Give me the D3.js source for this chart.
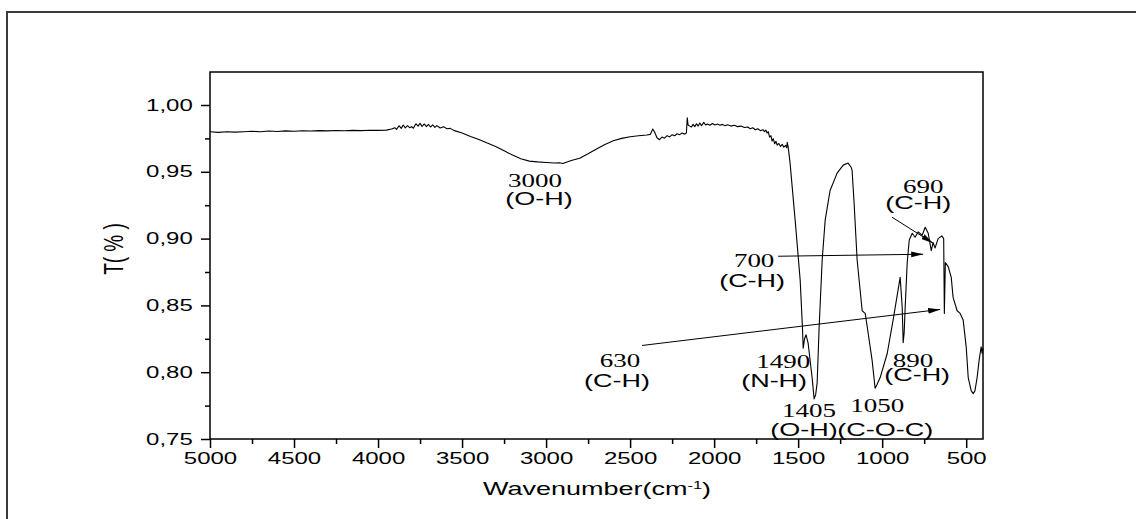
<!DOCTYPE html>
<html><head><meta charset="utf-8">
<script src="https://cdn.jsdelivr.net/npm/d3@7"></script>
<style>
body{margin:0;background:#fff} svg{display:block}
.serif{font-family:"Liberation Serif","Times New Roman",serif}
.sans{font-family:"Liberation Sans",Arial,sans-serif}
</style>
</head><body>
<svg id="chart" width="1136" height="519"></svg>
<script>
// ---- data ----
const wavenumber = [
 5000,4950,4900,4850,4800,4750,4700,4650,4600,4550,4500,4450,4400,4350,4300,4250,4200,4150,4100,4050,4000,3950,
 3920,3900,3890,3875,3862,3850,3838,3825,3812,3800,3790,3775,3762,3750,3738,3725,3712,3700,3688,3675,3662,3650,3630,3610,3590,3570,3550,
 3500,3450,3400,3350,3300,3250,3200,3150,3100,3050,3000,2950,2920,2900,2880,2850,2800,2750,2700,2650,2600,2550,2500,2450,2400,
 2380,2365,2355,2340,2325,2310,2295,2280,2265,2250,2235,2220,2205,2190,2175,2165,2160,2155,2145,2135,2125,2115,2105,2095,2085,2075,2062,2050,
 2040,2025,2010,1995,1980,1965,1950,1935,1920,1900,1880,1860,1840,1820,1800,1785,1770,1755,1740,1725,1710,1700,1692,1685,1678,1670,1662,
 1655,1648,1640,1632,1625,1615,1605,1595,1585,1575,1568,1565,1560,1555,1548,1518,1488,1475,1470,1462,1453,1441,1417,1405,1396,1387,1375,
 1357,1339,1310,1268,1232,1203,1185,1179,1167,1149,1119,1110,1101,1089,1060,1042,1030,1012,970,935,893,881,875,869,863,851,839,821,804,
 786,762,744,726,708,697,685,667,645,634,630,624,607,589,578,554,536,518,500,488,470,458,448,435,423,411,405,400
];
const transmittance = [
 0.9800,0.9795,0.9800,0.9797,0.9800,0.9803,0.9800,0.9805,0.9802,0.9806,0.9804,0.9807,0.9805,0.9808,0.9806,0.9809,0.9807,0.9810,0.9808,0.9811,0.9810,0.9812,
 0.9820,0.9830,0.9818,0.9845,0.9825,0.9850,0.9828,0.9845,0.9830,0.9838,0.9826,0.9860,0.9842,0.9862,0.9840,0.9858,0.9838,0.9855,0.9835,0.9852,0.9832,0.9846,0.9828,0.9838,0.9822,0.9825,0.9810,
 0.9790,0.9765,0.9742,0.9715,0.9690,0.9658,0.9625,0.9598,0.9580,0.9574,0.9570,0.9566,0.9568,0.9562,0.9572,0.9585,0.9602,0.9635,0.9670,0.9705,0.9732,0.9750,0.9762,0.9770,0.9776,
 0.9780,0.9820,0.9800,0.9755,0.9740,0.9760,0.9752,0.9770,0.9762,0.9778,0.9770,0.9785,0.9778,0.9790,0.9782,0.9790,0.9905,0.9850,0.9842,0.9835,0.9855,0.9838,0.9860,0.9842,0.9865,0.9845,0.9870,0.9850,
 0.9858,0.9848,0.9862,0.9850,0.9858,0.9848,0.9855,0.9845,0.9852,0.9842,0.9848,0.9838,0.9842,0.9832,0.9835,0.9822,0.9830,0.9815,0.9822,0.9808,0.9815,0.9800,0.9812,0.9790,0.9800,0.9760,0.9770,
 0.9730,0.9748,0.9710,0.9728,0.9700,0.9712,0.9690,0.9705,0.9685,0.9698,0.9680,0.9720,0.9690,0.9640,0.9565,0.9140,0.8690,0.8350,0.8180,0.8250,0.8280,0.8220,0.7960,0.7800,0.7830,0.7920,0.8340,
 0.8840,0.9140,0.9360,0.9490,0.9550,0.9565,0.9535,0.9510,0.9265,0.8840,0.8460,0.8450,0.8440,0.8340,0.8090,0.7880,0.7910,0.7960,0.8140,0.8390,0.8710,0.8490,0.8220,0.8300,0.8490,0.8820,0.8990,0.9040,0.9010,
 0.9050,0.9025,0.9085,0.9040,0.8910,0.8970,0.8930,0.9000,0.9020,0.9000,0.8440,0.8820,0.8790,0.8710,0.8560,0.8460,0.8440,0.8390,0.8190,0.7960,0.7860,0.7840,0.7860,0.7960,0.8090,0.8190,0.8140,0.8180
];
const xMajorTicks = [5000,4500,4000,3500,3000,2500,2000,1500,1000,500];
const xMinorTicks = [4750,4250,3750,3250,2750,2250,1750,1250,750];
const yMajorTicks = [0.75,0.80,0.85,0.90,0.95,1.00];
const yTickLabels = ["0,75","0,80","0,85","0,90","0,95","1,00"];
const yMinorTicks = [0.775,0.825,0.875,0.925,0.975];
const xTitle = "Wavenumber(cm";
const xTitleSup = "-1";
const yTitle = "T( % )";
// annotation labels: anchor position in data units (wavenumber, T)
const annotationNumbers = [
 {text:"3000", wn:3066, t:0.9385}, {text:"700", wn:1762, t:0.8786}, {text:"630", wn:2560, t:0.8036},
 {text:"1490", wn:1589, t:0.8028}, {text:"1405", wn:1435, t:0.7661}, {text:"1050", wn:1030, t:0.7699},
 {text:"890", wn:816, t:0.8040}, {text:"690", wn:756, t:0.9338}
];
const annotationBonds = [
 {text:"(O-H)", wn:3042, t:0.925}, {text:"(C-H)", wn:1774, t:0.8636}, {text:"(C-H)", wn:2578, t:0.7886},
 {text:"(N-H)", wn:1643, t:0.7886}, {text:"(O-H)", wn:1465, t:0.7526}, {text:"(C-O-C)", wn:982, t:0.7526},
 {text:"(C-H)", wn:792, t:0.7931}, {text:"(C-H)", wn:786, t:0.922}
];
const arrows = [
 {from:[941,0.916], to:[697,0.8966]},
 {from:[1619,0.8868], to:[756,0.8883]},
 {from:[2429,0.820], to:[655,0.847]}
];

// ---- layout ----
const W = 1136, H = 519;
const M = {left:210, right:983, top:72, bottom:439};
const SX = 1.5; // horizontal text stretch seen in the reference

const svg = d3.select("#chart");
svg.append("rect").attr("width",W).attr("height",H).attr("fill","#fff");

// outer frame (top & left visible)
svg.append("path").attr("d",`M7,${H} L7,12 L${W},12`).attr("fill","none")
  .attr("stroke","#3a3a3a").attr("stroke-width",2);

const x = d3.scaleLinear().domain([5000,400]).range([M.left,M.right]);
const y = d3.scaleLinear().domain([0.75,1.0247]).range([M.bottom,M.top]);

// axes
const gx = svg.append("g").attr("transform",`translate(0,${M.bottom})`)
  .call(d3.axisBottom(x).tickValues(xMajorTicks).tickSize(9).tickSizeOuter(0).tickPadding(5).tickFormat(d3.format("d")));
const gxm = svg.append("g").attr("transform",`translate(0,${M.bottom})`)
  .call(d3.axisBottom(x).tickValues(xMinorTicks).tickSize(5).tickSizeOuter(0).tickFormat(""));
const gy = svg.append("g").attr("transform",`translate(${M.left},0)`)
  .call(d3.axisLeft(y).tickValues(yMajorTicks).tickSize(9).tickSizeOuter(0).tickPadding(2.5)
    .tickFormat((d,i)=>yTickLabels[i]));
const gym = svg.append("g").attr("transform",`translate(${M.left},0)`)
  .call(d3.axisLeft(y).tickValues(yMinorTicks).tickSize(5).tickSizeOuter(0).tickFormat(""));
[gx,gxm,gy,gym].forEach(g=>{
  g.attr("font-family",null).attr("font-size",null);
  g.select(".domain").remove();
  g.selectAll(".tick line").attr("stroke","#000").attr("stroke-width",1.5);
  g.selectAll("text").attr("fill","#000").attr("class","sans").style("font-size","16px")
    .attr("transform",`scale(${SX},1)`);
});

// plot frame
svg.append("rect").attr("x",M.left).attr("y",M.top).attr("width",M.right-M.left).attr("height",M.bottom-M.top)
  .attr("fill","none").attr("stroke","#000").attr("stroke-width",1.5);

// spectrum
const pts = wavenumber.map((w,i)=>[w,transmittance[i]]);
svg.append("path").datum(pts)
  .attr("d",d3.line().x(d=>x(d[0])).y(d=>y(d[1])))
  .attr("fill","none").attr("stroke","#000").attr("stroke-width",1.1).attr("stroke-linejoin","round");

// arrows
svg.append("defs").append("marker").attr("id","ah").attr("markerUnits","userSpaceOnUse")
  .attr("markerWidth",13).attr("markerHeight",8).attr("refX",12).attr("refY",4).attr("orient","auto")
  .append("path").attr("d","M0,1.2 L12,4 L0,6.8 Z").attr("fill","#000");
svg.selectAll(".arrow").data(arrows).join("line").attr("class","arrow")
  .attr("x1",d=>x(d.from[0])).attr("y1",d=>y(d.from[1]))
  .attr("x2",d=>x(d.to[0])).attr("y2",d=>y(d.to[1]))
  .attr("stroke","#000").attr("stroke-width",1).attr("marker-end","url(#ah)");

// text helper with horizontal stretch
function stext(px,py,str,cls,size,rot){
  const g = svg.append("g").attr("transform",`translate(${px},${py}) scale(${SX},1)${rot?` rotate(${rot})`:""}`);
  return g.append("text").attr("class",cls).attr("text-anchor","middle").attr("fill","#000")
    .style("font-size",size+"px").text(str);
}
annotationNumbers.forEach(a=>stext(x(a.wn),y(a.t),a.text,"serif",18));
annotationBonds.forEach(a=>stext(x(a.wn),y(a.t),a.text,"sans",18));

// axis titles
const xt = stext(597,495,"","sans",18);
xt.append("tspan").text(xTitle);
xt.append("tspan").attr("baseline-shift","super").style("font-size","11px").text(xTitleSup);
xt.append("tspan").text(")");
stext(123,249,yTitle,"sans",19,-90);
</script>
</body></html>
